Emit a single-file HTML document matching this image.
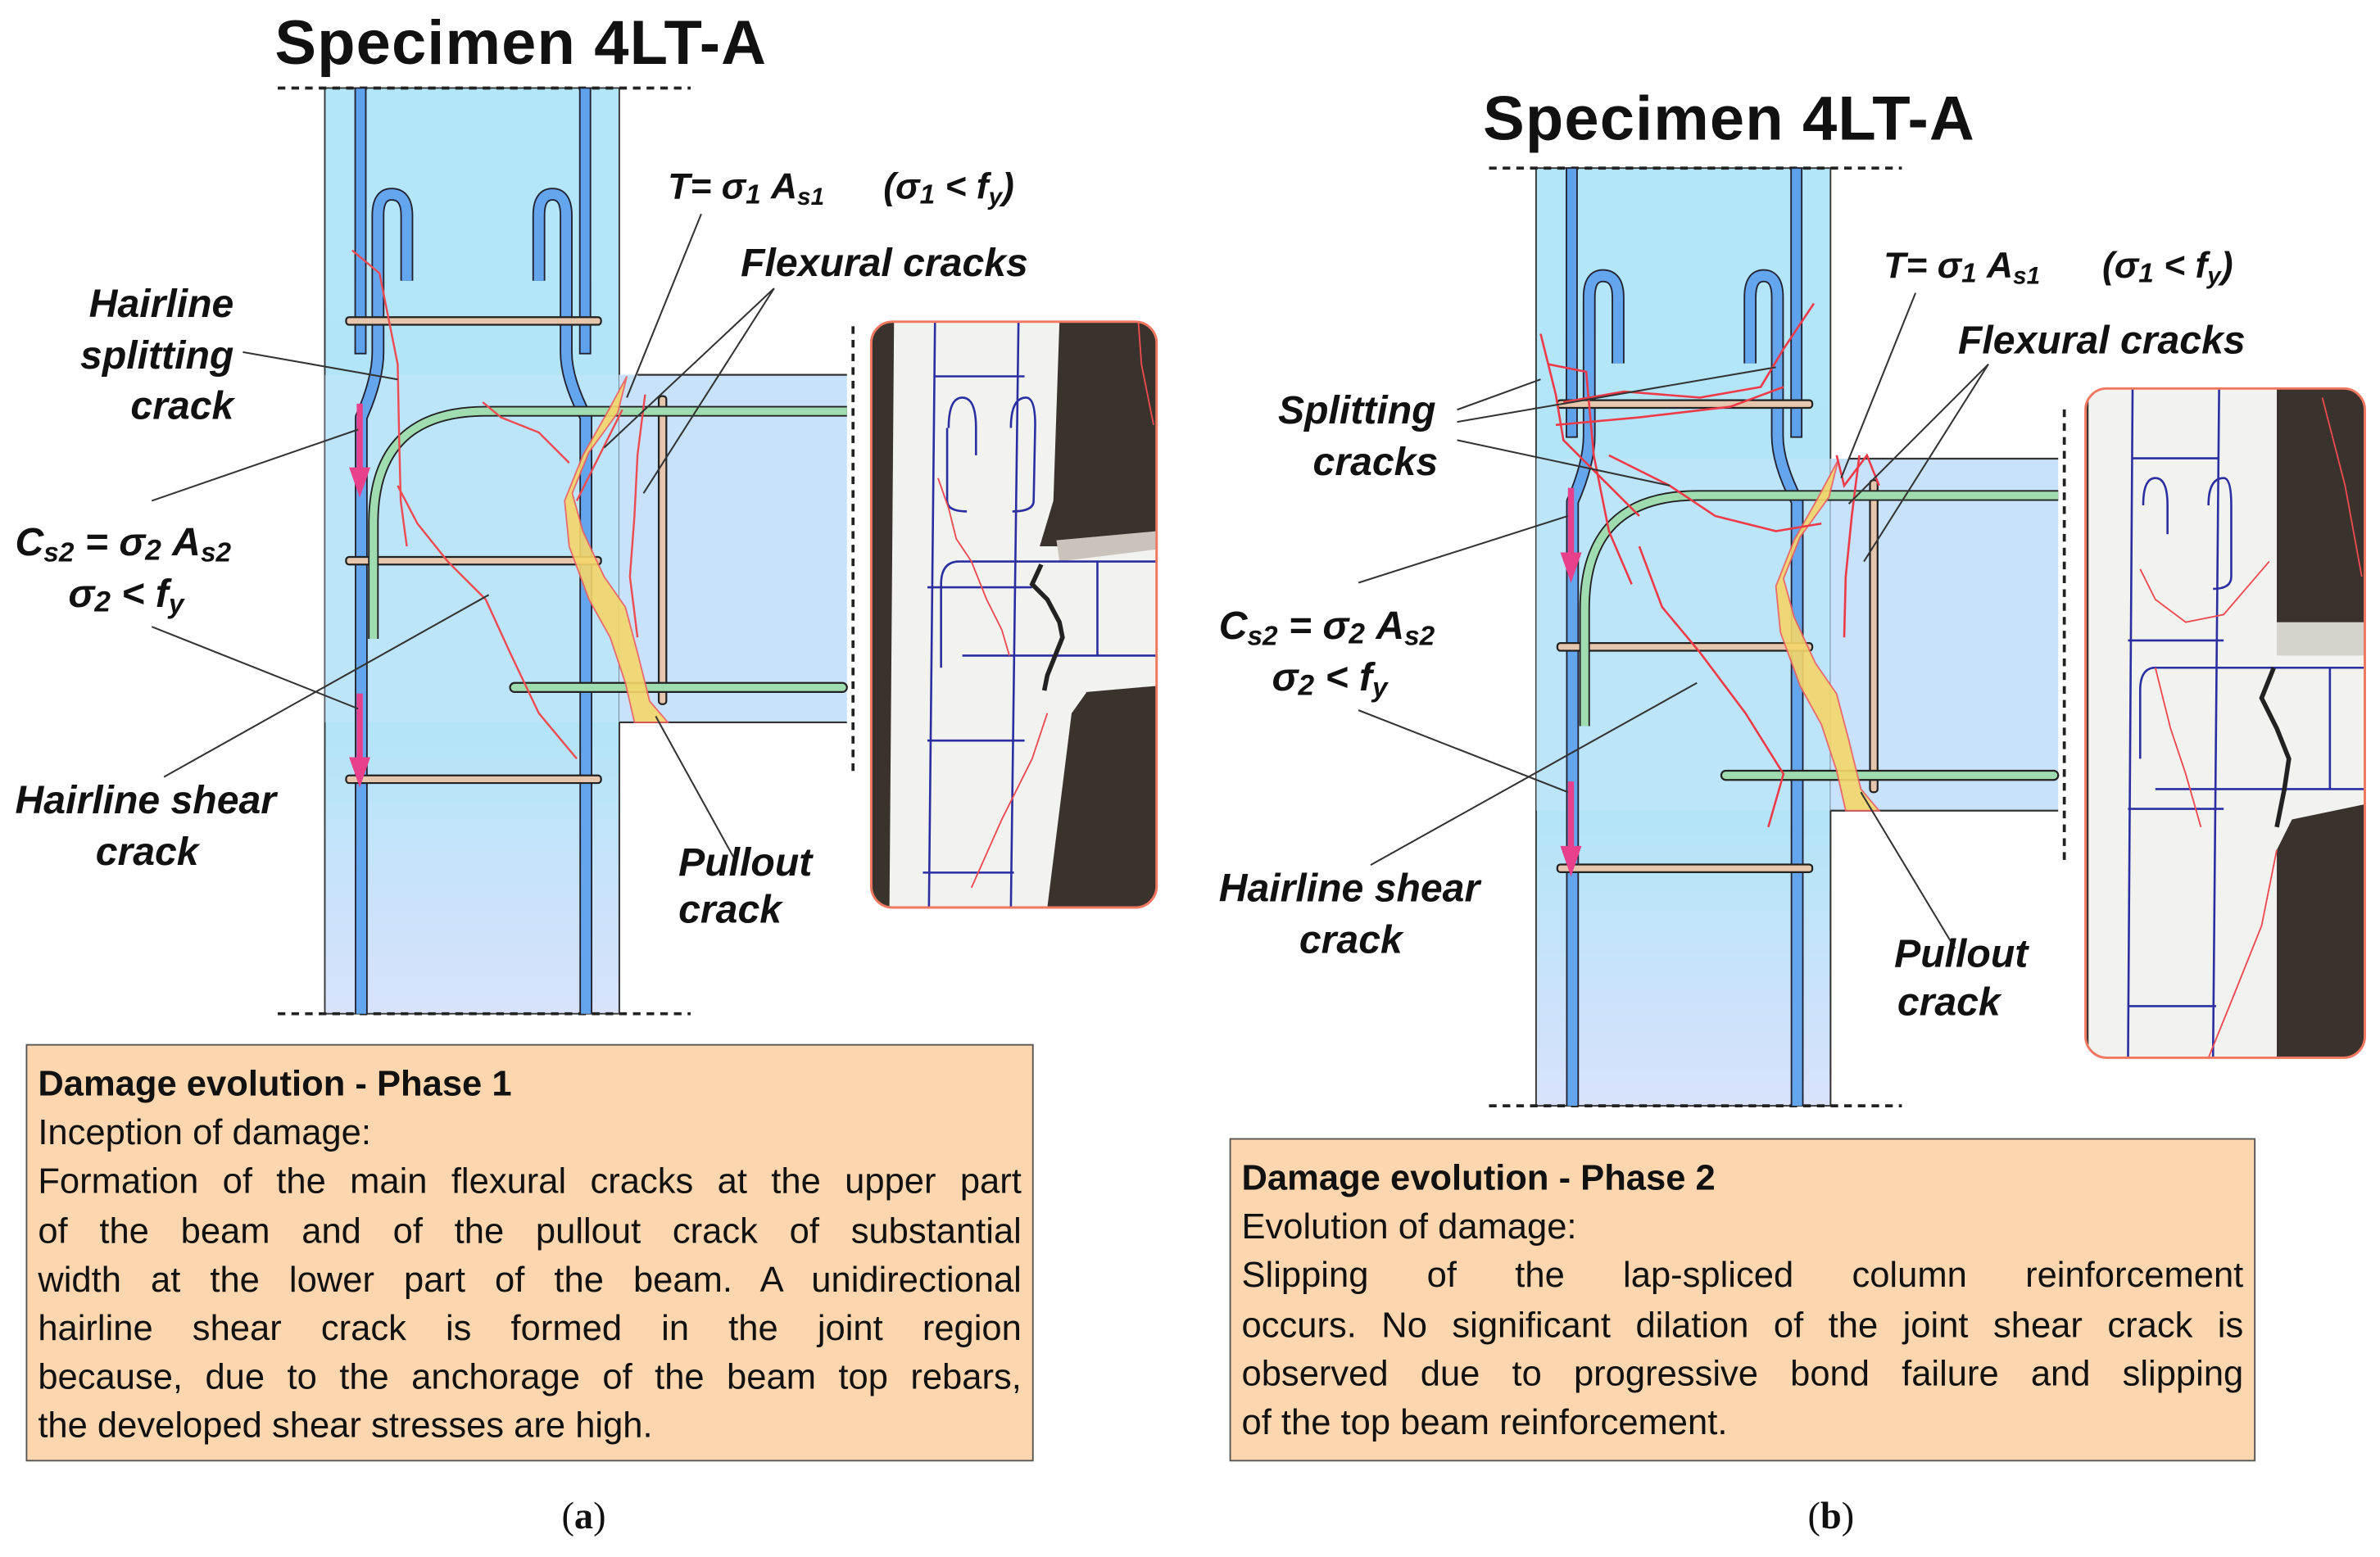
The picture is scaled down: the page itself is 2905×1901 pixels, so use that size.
<!DOCTYPE html>
<html><head><meta charset="utf-8"><style>
html,body{margin:0;padding:0;background:#fff;}
#wrap{position:relative;width:1568px;height:1026px;transform:scale(1.85268,1.85283);transform-origin:0 0;overflow:hidden;}
svg{position:absolute;left:0;top:0;}
.box{position:absolute;background:#fcd6ae;border:1.5px solid #555;box-sizing:border-box;font-family:"Liberation Sans",sans-serif;font-size:23.5px;color:#111;padding:9px 7px 0 7px;}
.box div{height:32.2px;line-height:32.2px;white-space:nowrap;}
.j{text-align:justify;text-align-last:justify;white-space:normal!important;}
.cap{position:absolute;font-family:"Liberation Serif",serif;font-size:25px;color:#111;}
</style></head><body><div id="wrap">
<svg width="1568" height="1026" viewBox="0 0 1568 1026" font-family="Liberation Sans, DejaVu Sans, sans-serif">
<defs>
<linearGradient id="colg" x1="0" y1="0" x2="0" y2="1"><stop offset="0" stop-color="#b2e6f8"/><stop offset="0.7" stop-color="#b4e4f8"/><stop offset="1" stop-color="#d8e2fb"/></linearGradient>
<g id="dia">
 <rect x="214" y="58" width="194" height="610" fill="url(#colg)" stroke="#333" stroke-width="1"/>
 <rect x="408" y="247" width="150" height="229" fill="#c8e2fb"/>
 <rect x="214" y="247" width="194" height="229" fill="#c6e6fb" opacity="0.5"/>
 <line x1="420" y1="247" x2="558" y2="247" stroke="#333" stroke-width="1.2"/>
 <line x1="408" y1="476" x2="558" y2="476" stroke="#333" stroke-width="1.2"/>
 <line x1="408" y1="476" x2="408" y2="668" stroke="#333" stroke-width="1"/>
 <line x1="183" y1="58" x2="455" y2="58" stroke="#222" stroke-width="2" stroke-dasharray="5,4"/>
 <line x1="183" y1="668" x2="455" y2="668" stroke="#222" stroke-width="2" stroke-dasharray="5,4"/>
 <line x1="562" y1="215" x2="562" y2="510" stroke="#222" stroke-width="2" stroke-dasharray="5,4"/>
 <rect x="234" y="58" width="7" height="175" fill="#5ea2ec" stroke="#223" stroke-width="1"/>
 <rect x="382" y="58" width="7" height="175" fill="#5ea2ec" stroke="#223" stroke-width="1"/>
 <path d="M268 185 L268 142 Q268 128 258 128 Q249 128 249 142 L249 232 Q249 250 238 275 L238 668" fill="none" stroke="#223" stroke-width="8.5" stroke-linejoin="round"/>
 <path d="M268 185 L268 142 Q268 128 258 128 Q249 128 249 142 L249 232 Q249 250 238 275 L238 668" fill="none" stroke="#64a6ee" stroke-width="6.5" stroke-linejoin="round"/>
 <path d="M355 185 L355 142 Q355 128 364 128 Q373 128 373 142 L373 232 Q373 250 386 275 L386 668" fill="none" stroke="#223" stroke-width="8.5" stroke-linejoin="round"/>
 <path d="M355 185 L355 142 Q355 128 364 128 Q373 128 373 142 L373 232 Q373 250 386 275 L386 668" fill="none" stroke="#64a6ee" stroke-width="6.5" stroke-linejoin="round"/>
 <g fill="#e6c6ac" stroke="#222" stroke-width="1.2">
 <rect x="228" y="209" width="168" height="5" rx="2"/>
 <rect x="228" y="367" width="168" height="5" rx="2"/>
 <rect x="228" y="511" width="168" height="5" rx="2"/>
 <rect x="434" y="261" width="5" height="203" rx="2"/>
 </g>
 <path d="M558 271 L320 271 Q246 271 246 345 L246 421" fill="none" stroke="#222" stroke-width="7"/>
 <path d="M558 271 L320 271 Q246 271 246 345 L246 421" fill="none" stroke="#9fdcb0" stroke-width="5"/>
 <rect x="336" y="450" width="222" height="6" rx="3" fill="#9fdcb0" stroke="#222" stroke-width="1.2"/>
 <g fill="#e8408a"><rect x="235" y="266" width="4" height="44"/><polygon points="230,308 244,308 237,328"/>
 <rect x="235" y="457" width="4" height="44"/><polygon points="230,499 244,499 237,519"/></g>
 <path d="M413 248 L407 272 L388 298 L377 325 L384 350 L398 380 L412 400 L420 430 L428 462 L440 476 L418 476 L412 450 L402 420 L388 395 L375 360 L372 330 L384 300 L400 272 Z" fill="#f5d66a" stroke="#ef6060" stroke-width="1" opacity="0.9"/>
</g>
</defs>
<text x="181" y="42" font-size="41" font-weight="bold" fill="#111" letter-spacing="0.6">Specimen 4LT-A</text>
<text x="977" y="92" font-size="41" font-weight="bold" fill="#111" letter-spacing="0.6">Specimen 4LT-A</text>
<use href="#dia"/>
<use href="#dia" transform="translate(798,52) scale(1,1.013)"/>
<g fill="none" stroke="#ee4a52" stroke-width="1.3">
 <path d="M232 165 L250 180 L256 210 L262 240 L263 290 L264 330 L268 360"/>
 <path d="M318 265 L330 275 L355 285 L375 305"/>
 <path d="M262 320 L275 345 L295 370 L320 395 L336 430 L355 470 L380 500"/>
 <path d="M425 260 L420 300 L418 340 L415 380 L420 420"/>
 <path d="M380 330 L390 310 L400 290 L410 270"/>
</g>
<g fill="none" stroke="#ee3a48" stroke-width="1.4">
 <path d="M1015 220 L1025 260 L1030 290 L1060 320 L1080 340"/>
 <path d="M1030 265 L1070 258 L1120 262 L1160 255 L1175 230 L1195 200"/>
 <path d="M1025 280 L1080 275 L1140 268 L1175 255"/>
 <path d="M1020 240 L1045 245 L1050 300 L1060 350 L1075 385"/>
 <path d="M1060 300 L1100 320 L1130 340 L1170 350 L1200 345"/>
 <path d="M1080 360 L1095 400 L1120 430 L1150 470 L1175 510 L1165 545"/>
 <path d="M1225 300 L1220 340 L1216 380 L1215 420"/>
 <path d="M1210 300 L1215 320 L1230 300 L1238 320"/>
</g>
<g stroke="#333" stroke-width="1.1" fill="none">
 <line x1="160" y1="232" x2="262" y2="250"/>
 <line x1="100" y1="330" x2="236" y2="283"/>
 <line x1="100" y1="413" x2="236" y2="467"/>
 <line x1="108" y1="512" x2="322" y2="392"/>
 <line x1="462" y1="141" x2="413" y2="262"/>
 <line x1="510" y1="190" x2="398" y2="295"/>
 <line x1="510" y1="190" x2="424" y2="325"/>
 <line x1="485" y1="568" x2="432" y2="472"/>
 <line x1="960" y1="270" x2="1015" y2="250"/>
 <line x1="960" y1="278" x2="1170" y2="242"/>
 <line x1="960" y1="290" x2="1100" y2="320"/>
 <line x1="895" y1="384" x2="1033" y2="340"/>
 <line x1="895" y1="468" x2="1033" y2="522"/>
 <line x1="903" y1="570" x2="1118" y2="450"/>
 <line x1="1262" y1="193" x2="1213" y2="315"/>
 <line x1="1310" y1="240" x2="1218" y2="332"/>
 <line x1="1310" y1="240" x2="1228" y2="370"/>
 <line x1="1288" y1="625" x2="1226" y2="522"/>
</g>
<g font-size="26" font-weight="bold" font-style="italic" fill="#111">
 <text x="440" y="131" font-size="24">T= σ<tspan font-size="18" dy="3">1</tspan><tspan dy="-3"> A</tspan><tspan font-size="16" dy="4">s1</tspan><tspan dy="-4" x="582">(σ</tspan><tspan font-size="18" dy="3">1</tspan><tspan dy="-3"> &lt; f</tspan><tspan font-size="16" dy="4">y</tspan><tspan dy="-4">)</tspan></text>
 <text x="488" y="182">Flexural cracks</text>
 <text x="154" y="209" text-anchor="end">Hairline</text>
 <text x="154" y="243" text-anchor="end">splitting</text>
 <text x="154" y="276" text-anchor="end">crack</text>
 <text x="10" y="366">C<tspan font-size="18" dy="4">s2</tspan><tspan dy="-4"> = σ</tspan><tspan font-size="19" dy="3">2</tspan><tspan dy="-3"> A</tspan><tspan font-size="18" dy="4">s2</tspan></text>
 <text x="45" y="400">σ<tspan font-size="19" dy="3">2</tspan><tspan dy="-3"> &lt; f</tspan><tspan font-size="18" dy="4">y</tspan></text>
 <text x="10" y="536">Hairline shear</text>
 <text x="63" y="570">crack</text>
 <text x="447" y="577">Pullout</text>
 <text x="447" y="608">crack</text>
 <text x="1241" y="183" font-size="24">T= σ<tspan font-size="18" dy="3">1</tspan><tspan dy="-3"> A</tspan><tspan font-size="16" dy="4">s1</tspan><tspan dy="-4" x="1385">(σ</tspan><tspan font-size="18" dy="3">1</tspan><tspan dy="-3"> &lt; f</tspan><tspan font-size="16" dy="4">y</tspan><tspan dy="-4">)</tspan></text>
 <text x="1290" y="233">Flexural cracks</text>
 <text x="842" y="279">Splitting</text>
 <text x="865" y="313">cracks</text>
 <text x="803" y="421">C<tspan font-size="18" dy="4">s2</tspan><tspan dy="-4"> = σ</tspan><tspan font-size="19" dy="3">2</tspan><tspan dy="-3"> A</tspan><tspan font-size="18" dy="4">s2</tspan></text>
 <text x="838" y="455">σ<tspan font-size="19" dy="3">2</tspan><tspan dy="-3"> &lt; f</tspan><tspan font-size="18" dy="4">y</tspan></text>
 <text x="803" y="594">Hairline shear</text>
 <text x="856" y="628">crack</text>
 <text x="1248" y="637">Pullout</text>
 <text x="1250" y="669">crack</text>
</g>
<g>
 <clipPath id="pa"><rect x="574" y="212" width="188" height="386" rx="14"/></clipPath>
 <g clip-path="url(#pa)">
  <rect x="574" y="212" width="188" height="386" fill="#3a322c"/>
  <polygon points="589,212 698,212 694,330 685,360 762,360 762,452 716,456 706,470 690,598 586,598" fill="#f2f2ef"/>
  <polygon points="696,356 762,350 762,362 698,370" fill="#c9c3bb"/>
  <g stroke="#2a2ea0" stroke-width="1.4" fill="none">
   <line x1="616" y1="212" x2="612" y2="598"/><line x1="671" y1="212" x2="666" y2="598"/>
   <line x1="616" y1="248" x2="675" y2="248"/><line x1="611" y1="387" x2="680" y2="387"/>
   <line x1="611" y1="488" x2="675" y2="488"/><line x1="608" y1="575" x2="668" y2="575"/>
   <path d="M625 282 Q625 262 634 262 Q643 262 643 282 L643 300 M624 282 L624 330 Q624 337 637 337"/>
   <path d="M666 282 Q666 262 676 262 Q682 262 682 280 L681 330 Q681 337 667 337"/>
   <path d="M632 370 Q620 370 620 385 L620 440 M630 370 L762 370"/>
   <line x1="634" y1="432" x2="762" y2="432"/>
   <line x1="723" y1="370" x2="723" y2="432"/>
  </g>
  <path d="M686 372 L680 385 L690 395 L698 410 L700 420 L696 430 L690 445 L688 455" stroke="#222" stroke-width="3" fill="none"/>
  <g stroke="#ee4a52" stroke-width="1" fill="none">
   <path d="M618 315 L625 335 L630 355 L640 370 L650 395 L660 415 L665 432"/>
   <path d="M750 212 L752 240 L760 280"/><path d="M690 470 L680 500 L660 540 L640 585"/>
  </g>
 </g>
 <rect x="574" y="212" width="188" height="386" rx="14" fill="none" stroke="#f07860" stroke-width="1.6"/>
</g>
<g>
 <clipPath id="pb"><rect x="1374" y="256" width="184" height="441" rx="14"/></clipPath>
 <g clip-path="url(#pb)">
  <rect x="1374" y="256" width="184" height="441" fill="#3a322c"/>
  <polygon points="1376,256 1500,256 1500,430 1558,430 1558,530 1510,540 1500,560 1500,697 1376,697" fill="#f2f2ef"/>
  <rect x="1500" y="410" width="58" height="22" fill="#d6d2cc"/>
  <g stroke="#2a2ea0" stroke-width="1.4" fill="none">
   <line x1="1405" y1="256" x2="1402" y2="697"/><line x1="1462" y1="256" x2="1458" y2="697"/>
   <line x1="1405" y1="302" x2="1462" y2="302"/><line x1="1402" y1="422" x2="1465" y2="422"/>
   <line x1="1402" y1="533" x2="1465" y2="533"/><line x1="1402" y1="663" x2="1460" y2="663"/>
   <path d="M1412 333 Q1412 315 1420 315 Q1428 315 1428 333 L1428 352"/><path d="M1455 333 Q1455 315 1465 315 Q1470 315 1470 333 L1470 380 Q1470 388 1458 388"/>
   <path d="M1420 440 Q1410 440 1410 455 L1410 500 M1418 440 L1558 440"/>
   <line x1="1420" y1="520" x2="1558" y2="520"/><line x1="1535" y1="440" x2="1535" y2="520"/>
  </g>
  <path d="M1498 440 L1490 460 L1500 480 L1508 500 L1505 520 L1500 545" stroke="#222" stroke-width="3" fill="none"/>
  <g stroke="#ee4a52" stroke-width="1" fill="none">
   <path d="M1410 375 L1420 395 L1440 410 L1465 405 L1495 370"/>
   <path d="M1420 440 L1430 480 L1440 510 L1450 545"/><path d="M1500 560 L1490 610 L1470 660 L1455 697"/>
   <path d="M1530 262 L1545 320 L1556 380"/>
  </g>
 </g>
 <rect x="1374" y="256" width="184" height="441" rx="14" fill="none" stroke="#f07860" stroke-width="1.6"/>
</g>
</svg>
<div class="box" style="left:17px;top:688px;width:664px;height:275px;">
 <div><b>Damage evolution - Phase 1</b></div>
 <div>Inception of damage:</div>
 <div class="j">Formation of the main flexural cracks at the upper part</div>
 <div class="j">of the beam and of the pullout crack of substantial</div>
 <div class="j">width at the lower part of the beam. A unidirectional</div>
 <div class="j">hairline shear crack is formed in the joint region</div>
 <div class="j">because, due to the anchorage of the beam top rebars,</div>
 <div>the developed shear stresses are high.</div>
</div>
<div class="box" style="left:810px;top:750px;width:676px;height:213px;">
 <div><b>Damage evolution - Phase 2</b></div>
 <div>Evolution of damage:</div>
 <div class="j">Slipping of the lap-spliced column reinforcement</div>
 <div class="j">occurs. No significant dilation of the joint shear crack is</div>
 <div class="j">observed due to progressive bond failure and slipping</div>
 <div>of the top beam reinforcement.</div>
</div>
<div class="cap" style="left:370px;top:986px;">(<b>a</b>)</div>
<div class="cap" style="left:1191px;top:986px;">(<b>b</b>)</div>
</div></body></html>
